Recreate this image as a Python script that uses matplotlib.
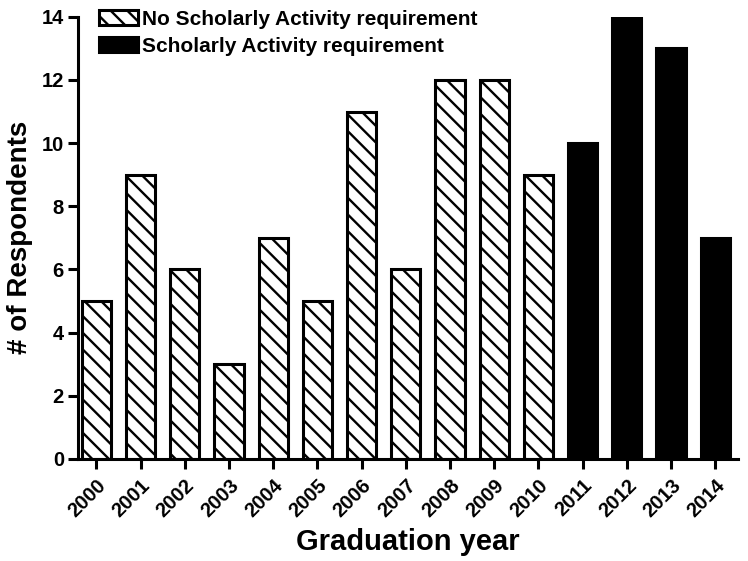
import matplotlib.pyplot as plt
import numpy as np

plt.rcParams['font.family'] = ['Liberation Sans', 'DejaVu Sans']
plt.rcParams['font.weight'] = 'bold'
plt.rcParams['hatch.linewidth'] = 1.7

years = [str(y) for y in range(2000, 2015)]
no_req_years = years[:11]
no_req_counts = [5, 9, 6, 3, 7, 5, 11, 6, 12, 12, 9]
req_years = years[11:]
req_counts = [10, 14, 13, 7]

fig = plt.figure(figsize=(7.48, 5.61), dpi=100)
ax = fig.add_axes([0.104, 0.182, 0.883, 0.788])

x_no = np.arange(len(no_req_years))
x_req = np.arange(len(no_req_years), len(years))

ax.bar(x_no, no_req_counts, width=0.66, color='white', edgecolor='black',
       linewidth=2.2, hatch='\\\\', label='No Scholarly Activity requirement')
ax.bar(x_req, req_counts, width=0.66, color='black', edgecolor='black',
       linewidth=2.2, label='Scholarly Activity requirement')

ax.set_xlim(-0.42, 14.52)
ax.set_ylim(0, 14)
ax.set_yticks(range(0, 15, 2))
ax.set_xticks(range(len(years)))
ax.set_xticklabels(years, rotation=45, ha='right', rotation_mode='anchor')

for s in ['top', 'right']:
    ax.spines[s].set_visible(False)
for s in ['left', 'bottom']:
    ax.spines[s].set_linewidth(2.2)
ax.tick_params(width=2.2, length=7, labelsize=14.5, pad=3)
ax.tick_params(axis='x', pad=5)

ax.set_xlabel('Graduation year', fontsize=21, fontweight='bold', labelpad=5)
ax.set_ylabel('# of Respondents', fontsize=20, fontweight='bold', labelpad=6)

ax.legend(loc='upper left', bbox_to_anchor=(0.02, 1.035), frameon=False,
          fontsize=15, handlelength=1.85, handleheight=0.75, handletextpad=0.2,
          labelspacing=0.4, borderaxespad=0)

fig.savefig('out.png', dpi=100)
